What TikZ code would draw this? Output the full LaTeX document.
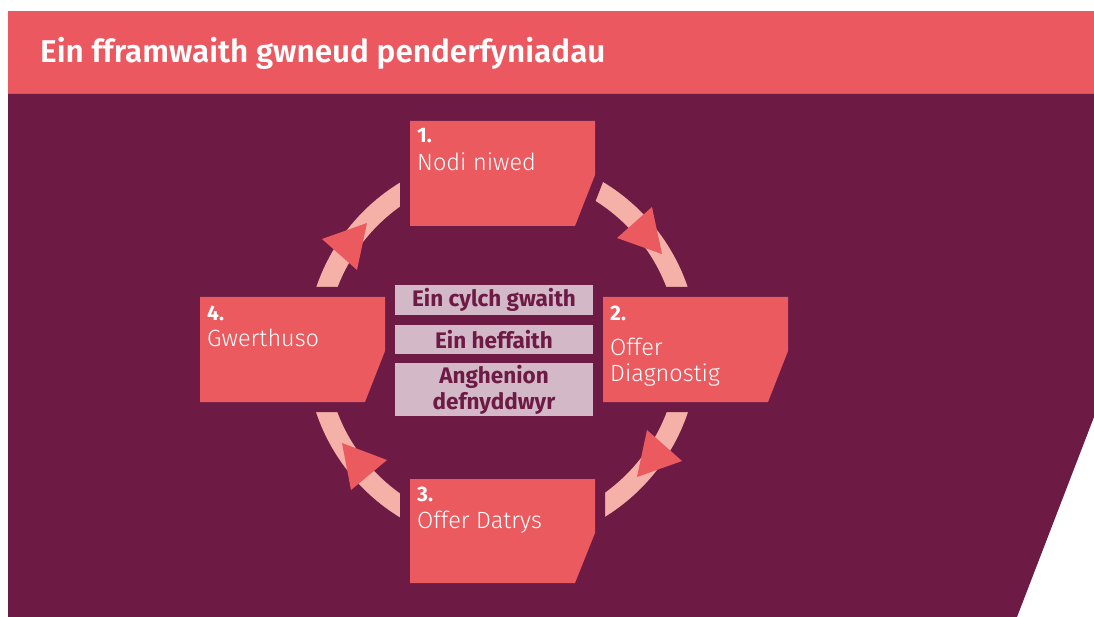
\documentclass[tikz,border=0pt]{standalone}
\usepackage{fontspec}
\setmainfont{Fira Sans}
\newfontfamily\lightfont{Fira Sans Light}
\newfontfamily\semifont{Fira Sans SemiBold}
\definecolor{hdrred}{HTML}{EB585F}
\definecolor{boxred}{HTML}{EA5A5E}
\definecolor{plum}{HTML}{6D1A45}
\definecolor{ringpink}{HTML}{F5B0A8}
\definecolor{mauve}{HTML}{D3B9C8}
\newcommand\cutbox[4]{%
  \fill[plum, draw=plum, line width=20pt, line join=miter]
    (#1,#2) -- (#3,#2) -- (#3,#2+54) -- (#3-20,#4) -- (#1,#4) -- cycle;
  \fill[boxred] (#1,#2) -- (#3,#2) -- (#3,#2+54) -- (#3-20,#4) -- (#1,#4) -- cycle;}
\tikzset{
  numtxt/.style={anchor=base west, text=white, inner sep=0pt, font=\fontsize{21}{22}\selectfont\bfseries},
  steptxt/.style={anchor=base west, text=white, inner sep=0pt, font=\fontsize{23.5}{26}\selectfont\lightfont},
  centrebox/.style={fill=mauve, text=plum, minimum width=198pt, inner sep=0pt, align=center,
    font=\fontsize{22.5}{26}\selectfont\bfseries},
  arrowtri/.style={fill=boxred}
}
\begin{document}
\begin{tikzpicture}[x=1pt,y=-1pt]
\useasboundingbox (0,0) rectangle (1094,617);
\fill[white] (0,0) rectangle (1094,617);
% header
\fill[hdrred] (8,11) rectangle (1094,94);
\node[anchor=base west, text=white, inner sep=0pt, font=\fontsize{31.5}{34}\selectfont\semifont] (title) at (40,63) {Ein fframwaith gwneud penderfyniadau};
% purple panel
\fill[plum] (8,94) -- (1094,94) -- (1094,417) -- (1017,617) -- (8,617) -- cycle;
% ring
\coordinate (ringc) at (502,350);
\draw[ringpink, line width=20pt] (ringc) circle [radius=186pt];
% arrowheads
\fill[arrowtri] (367,223) -- (322,239) -- (357,270) -- cycle;
\fill[arrowtri] (662,254) -- (617,238) -- (652,207) -- cycle;
\fill[arrowtri] (637,477) -- (647,430) -- (682,461) -- cycle;
\fill[arrowtri] (342,443) -- (387,460) -- (351,490) -- cycle;
% step boxes
\cutbox{410}{121}{595}{226}
\cutbox{603}{297}{788}{402}
\cutbox{410}{479}{595}{583}
\cutbox{200}{297}{385}{402}
% texts
\node[numtxt] (n1) at (417,143) {1.};
\node[steptxt] (t1) at (417,171) {Nodi niwed};
\node[numtxt] (n2) at (610,320) {2.};
\node[steptxt] (t2a) at (610,355) {Offer};
\node[steptxt] (t2b) at (610,381) {Diagnostig};
\node[numtxt] (n3) at (417,501) {3.};
\node[steptxt] (t3) at (417,528) {Offer Datrys};
\node[numtxt] (n4) at (207,320) {4.};
\node[steptxt] (t4) at (207,346) {Gwerthuso};
% centre boxes
\node[centrebox, minimum height=30pt] (c1) at (494,300) {Ein cylch gwaith};
\node[centrebox, minimum height=29pt] (c2) at (494,339.5) {Ein heffaith};
\node[centrebox, minimum height=53pt] (c3) at (494,389.5) {Anghenion\\defnyddwyr};
\end{tikzpicture}
\end{document}
